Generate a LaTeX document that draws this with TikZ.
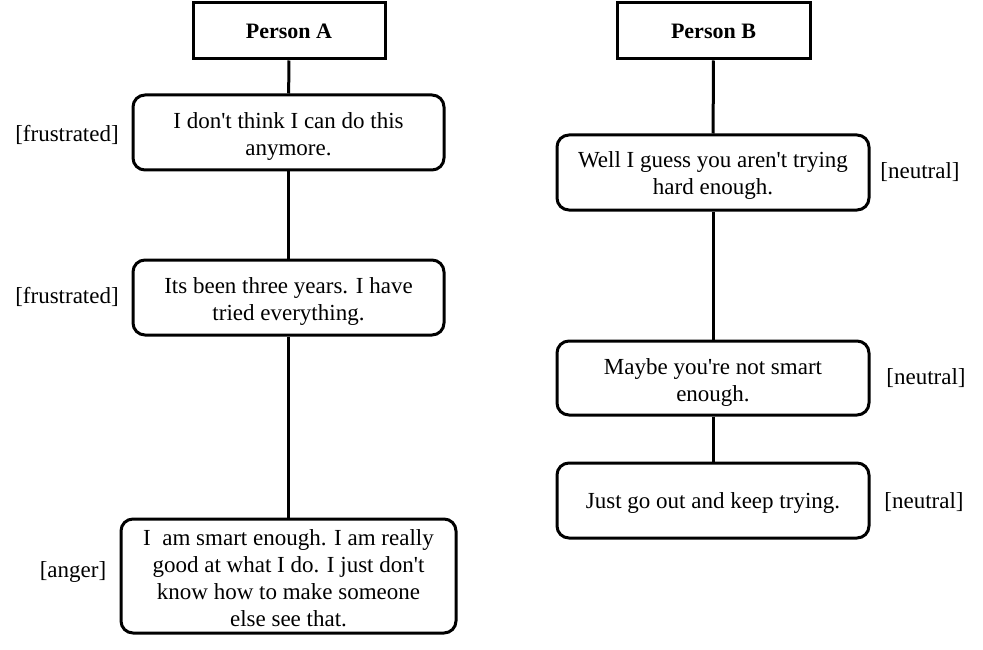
\documentclass[tikz,border=0pt]{standalone}
\usepackage{fontspec}
\setmainfont{Liberation Serif}
\newcommand{\ap}{\textquotesingle}
\newcommand{\tstrut}[1]{\rule{0pt}{#1}}
\begin{document}
\begin{tikzpicture}[x=1pt,y=-1pt,
  every node/.style={font=\fontsize{23}{27}\selectfont, inner sep=0pt},
  head/.style={draw, line width=3pt, fill=white, font=\fontsize{22}{27}\selectfont\bfseries},
  utter/.style={draw, line width=3pt, rounded corners=12pt, fill=white, align=center},
  emo/.style={},
  link/.style={line width=3pt}]
\useasboundingbox (0,0) rectangle (983,650);
\node[head, minimum width=192pt, minimum height=56pt] (A0) at (289,31) {Person A};
\node[utter, minimum width=311pt, minimum height=75pt] (A1) at (288.5,132.5) {\tstrut{24pt}I don\ap t think I can do this\\anymore.};
\node[utter, minimum width=311pt, minimum height=75pt] (A2) at (288.5,297.5) {\tstrut{24pt}Its been three years. I have\\tried everything.};
\node[utter, minimum width=335pt, minimum height=114pt] (A3) at (288.5,576) {\tstrut{20pt}I\ \ am smart enough. I am really\\good at what I do. I just don\ap t\\know how to make someone\\else see that.};
\node[head, minimum width=193pt, minimum height=56pt] (B0) at (713.5,31) {Person B};
\node[utter, minimum width=312pt, minimum height=75pt] (B1) at (713,172.5) {\tstrut{22pt}Well I guess you aren\ap t trying\\hard enough.};
\node[utter, minimum width=312pt, minimum height=74pt] (B2) at (713,378) {\tstrut{24pt}Maybe you\ap re not smart\\enough.};
\node[utter, minimum width=312pt, minimum height=75pt] (B3) at (713,500.5) {\tstrut{20pt}Just go out and keep trying.};
\node[emo] (eA1) at (67,135) {[frustrated]};
\node[emo] (eA2) at (67,297) {[frustrated]};
\node[emo] (eA3) at (73,572) {[anger]};
\node[emo] (eB1) at (920,172) {[neutral]};
\node[emo] (eB2) at (926,378) {[neutral]};
\node[emo] (eB3) at (924,502) {[neutral]};
\draw[link] (A0) -- (A1);
\draw[link] (A1) -- (A2);
\draw[link] (A2) -- (A3);
\draw[link] (B0) -- (B1);
\draw[link] (B1) -- (B2);
\draw[link] (B2) -- (B3);
\end{tikzpicture}
\end{document}
